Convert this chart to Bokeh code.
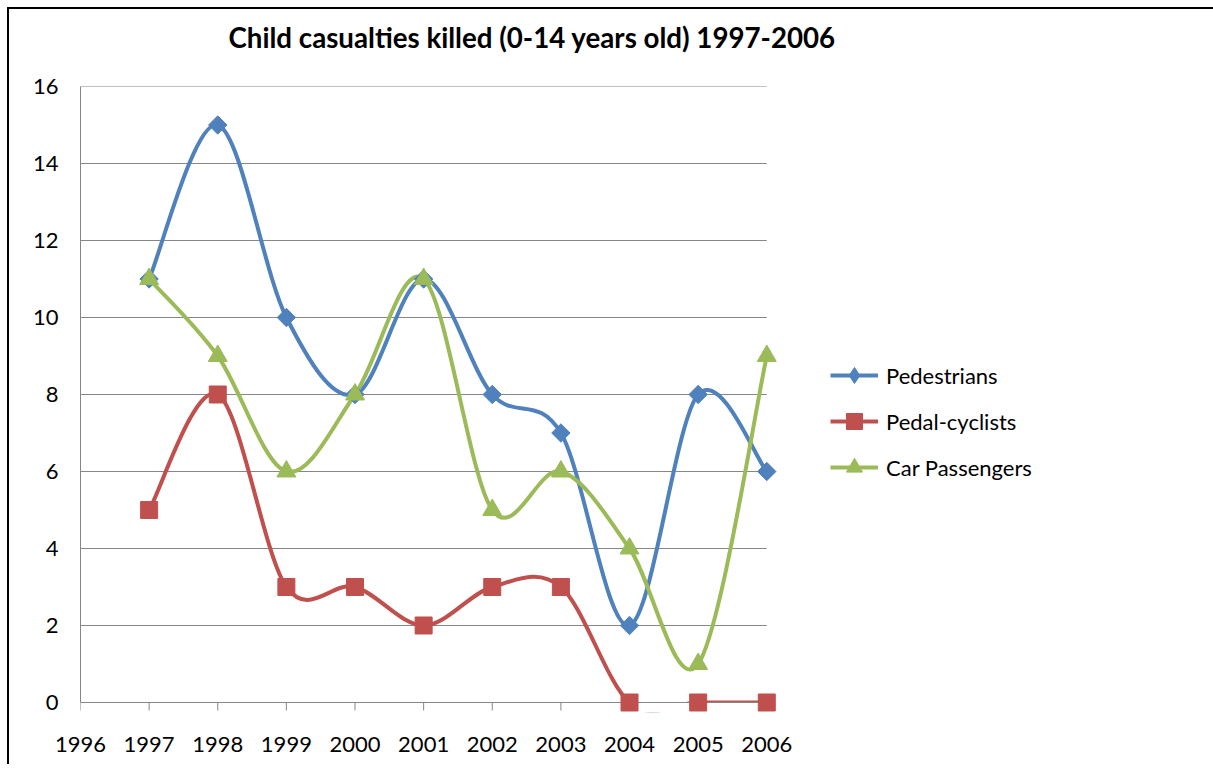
import math
from bokeh.plotting import figure
from bokeh.models import (Range1d, FixedTicker, Legend, LegendItem, ColumnDataSource, Title,
                          GlobalInlineStyleSheet)
from bokeh.embed import file_html
from bokeh.resources import INLINE

years = [1997, 1998, 1999, 2000, 2001, 2002, 2003, 2004, 2005, 2006]
pedestrians = [11, 15, 10, 8, 11, 8, 7, 2, 8, 6]
pedal_cyclists = [5, 8, 3, 3, 2, 3, 3, 0, 0, 0]
car_passengers = [11, 9, 6, 8, 11, 5, 6, 4, 1, 9]
x_ticks = [1996, 1997, 1998, 1999, 2000, 2001, 2002, 2003, 2004, 2005, 2006]
y_ticks = [0, 2, 4, 6, 8, 10, 12, 14, 16]
title_text = "Child casualties killed (0-14 years old) 1997-2006"

# name, values, colour, plot marker, size, angle, legend marker
series = [
    ("Pedestrians", pedestrians, "#4F81BD", "square", 13, math.pi / 4, "diamond"),
    ("Pedal-cyclists", pedal_cyclists, "#C0504D", "square", 17, 0.0, "square"),
    ("Car Passengers", car_passengers, "#9BBB59", "triangle", 19, 0.0, "triangle"),
]

FONT = "Lato"
GRID = "#868686"
X0, X1 = x_ticks[0], x_ticks[-1]
Y0, Y1 = y_ticks[0], y_ticks[-1]


def smooth_segments(xs, ys):
    """Catmull-Rom style Bezier control points (Excel-like smoothing)."""
    n = len(xs)
    d = {k: [] for k in ("x0", "y0", "x1", "y1", "cx0", "cy0", "cx1", "cy1")}
    for i in range(n - 1):
        p0 = (xs[max(i - 1, 0)], ys[max(i - 1, 0)])
        p1 = (xs[i], ys[i])
        p2 = (xs[i + 1], ys[i + 1])
        p3 = (xs[min(i + 2, n - 1)], ys[min(i + 2, n - 1)])
        d["x0"].append(p1[0]); d["y0"].append(p1[1])
        d["x1"].append(p2[0]); d["y1"].append(p2[1])
        d["cx0"].append(p1[0] + (p2[0] - p0[0]) / 6.0)
        d["cy0"].append(p1[1] + (p2[1] - p0[1]) / 6.0)
        d["cx1"].append(p2[0] - (p3[0] - p1[0]) / 6.0)
        d["cy1"].append(p2[1] - (p3[1] - p1[1]) / 6.0)
    return d


PAD_X = 0.2    # room so that markers at the last year are not clipped
PAD_Y = 0.26   # room so that markers at zero are not clipped
TICK_LEN = 0.208  # 8px outward tick marks, in value units

p = figure(frame_width=700, frame_height=626, output_backend="svg",
           toolbar_location=None, title=None,
           x_range=Range1d(X0, X1 + PAD_X), y_range=Range1d(Y0 - PAD_Y, Y1),
           min_border_left=71, min_border_top=77, min_border_bottom=52,
           min_border_right=236)
p.styles = {"margin-top": "7px", "margin-left": "7px",
            "border-top": "2px solid #000000", "border-left": "2px solid #000000",
            "border-right": "none", "border-bottom": "none"}
p.stylesheets = [GlobalInlineStyleSheet(css="html, body { overflow: hidden; }")]
p.outline_line_color = None
p.background_fill_color = "white"
p.border_fill_color = "white"

# spacer between the title and the plot area (added first = nearest the frame)
p.add_layout(Title(text=" ", text_font_size="10px", standoff=7,
                   text_color="white"), "above")
p.add_layout(Title(text=title_text, text_font=FONT, text_font_size="27.7px",
                   text_font_style="bold", text_color="#000000", align="left",
                   offset=148, vertical_align="top", standoff=22), "above")

# axes
p.xaxis.ticker = FixedTicker(ticks=x_ticks)
p.yaxis.ticker = FixedTicker(ticks=y_ticks)
p.yaxis.bounds = (Y0, Y1)
for ax in (p.xaxis, p.yaxis):
    ax.axis_line_color = GRID
    ax.axis_line_width = 1
    ax.major_tick_line_color = GRID
    ax.minor_tick_line_color = None
    ax.major_label_text_font = FONT
    ax.major_label_text_font_size = "22px"
    ax.major_label_text_color = "#000000"
p.xaxis.axis_line_color = None
p.xaxis.major_tick_line_color = None
p.xaxis.major_tick_out = 0
p.xaxis.major_tick_in = 0
p.xaxis.major_label_standoff = 24
p.yaxis.major_tick_out = 0
p.yaxis.major_tick_in = 0
p.yaxis.major_label_standoff = 22

p.xgrid.grid_line_color = None
p.ygrid.grid_line_color = None

# horizontal gridlines limited to the category span
p.segment(x0=[X0] * len(y_ticks), x1=[X1] * len(y_ticks), y0=y_ticks, y1=y_ticks,
          line_color=GRID, line_width=1)

for name, vals, color, marker, size, angle, leg_marker in series:
    seg = ColumnDataSource(smooth_segments(years, vals))
    p.bezier(x0="x0", y0="y0", x1="x1", y1="y1", cx0="cx0", cy0="cy0",
             cx1="cx1", cy1="cy1", source=seg, line_color=color, line_width=4)

# mask the smoothed lines below the value axis minimum (plot-area clipping)
p.quad(left=[X0 - 1], right=[X1 + 1], bottom=[Y0 - 1], top=[Y0],
       fill_color="white", line_color=None)

# category axis line at zero and its outward tick marks
p.segment(x0=[X0], x1=[X1], y0=[Y0], y1=[Y0], line_color=GRID, line_width=1)
p.segment(x0=x_ticks, x1=x_ticks, y0=[Y0] * len(x_ticks),
          y1=[Y0 - TICK_LEN] * len(x_ticks), line_color=GRID, line_width=1)

items = []
for name, vals, color, marker, size, angle, leg_marker in series:
    pts = p.scatter(x=years, y=vals, marker=marker, size=size, angle=angle,
                    fill_color=color, line_color=color)
    # renderers used only for the legend swatches (placed off-range)
    leg_line = p.line(x=[years[0]], y=[-100], line_color=color, line_width=4)
    leg_pt = p.scatter(x=[years[0]], y=[-100], marker=leg_marker, size=size,
                       fill_color=color, line_color=color)
    items.append(LegendItem(label=name, renderers=[leg_line, leg_pt]))

legend = Legend(items=items, location=(50, 225), orientation="vertical",
                label_text_font=FONT, label_text_font_size="22px",
                label_text_color="#000000", glyph_width=48, glyph_height=40,
                spacing=6, padding=0, margin=0, border_line_color=None,
                background_fill_alpha=0, label_standoff=8)
p.add_layout(legend, "right")

open("out.html", "w").write(file_html(p, INLINE))
